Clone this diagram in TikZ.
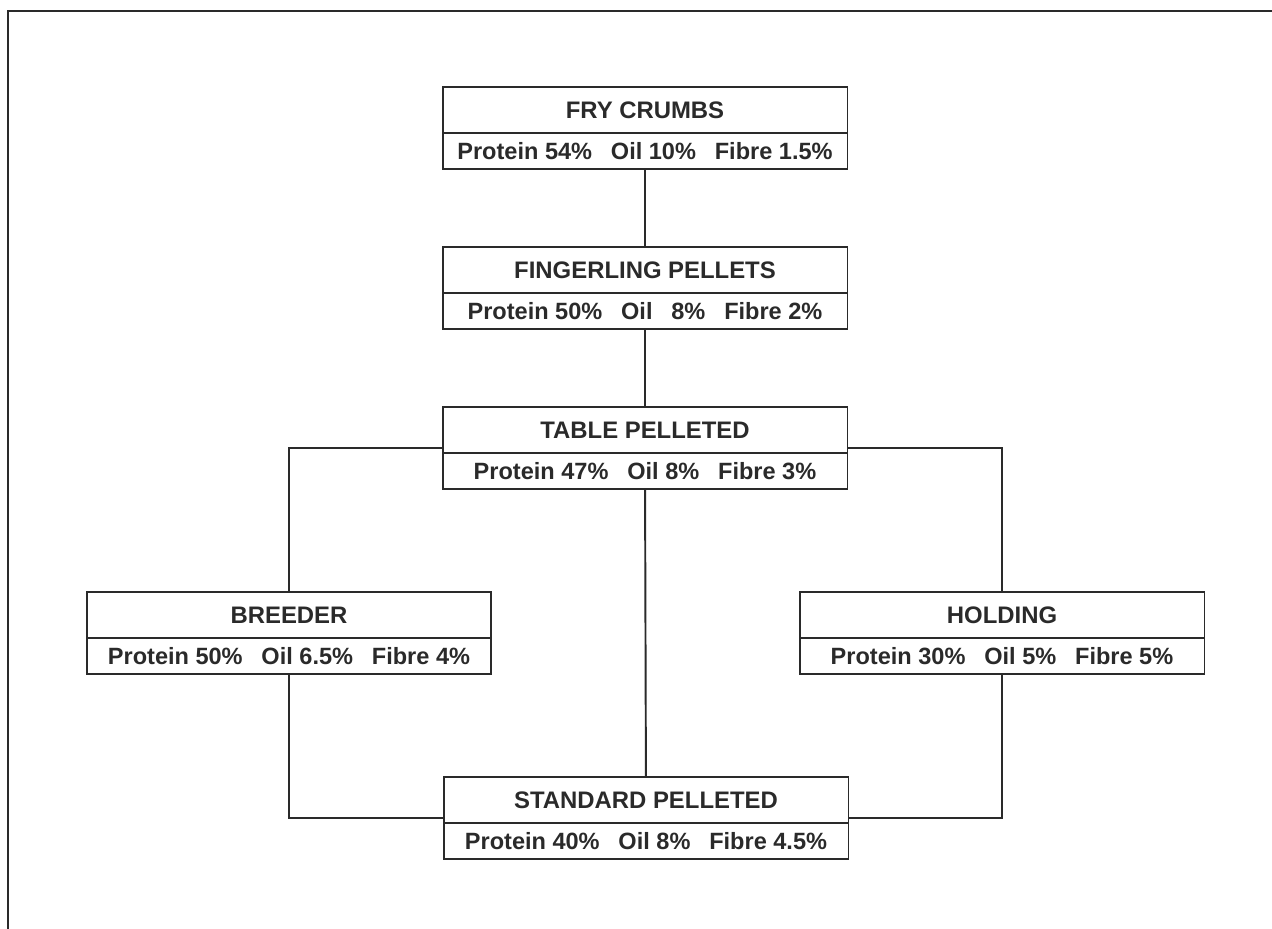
\documentclass[tikz,border=0pt]{standalone}
\usepackage{fontspec}
\setmainfont{Liberation Sans}
\usepackage{xcolor}
\usetikzlibrary{positioning,calc}
\definecolor{inkgrey}{HTML}{2a2a2a}
\newcommand{\gap}{\hspace{0.8em}}

\begin{document}
\begin{tikzpicture}[
    x=0.02cm, y=-0.02cm,
    title/.style={rectangle, draw=inkgrey, line width=1.1pt, minimum width=8.1cm,
                  minimum height=0.92cm, inner sep=0pt, outer sep=0pt, align=center,
                  font=\fontsize{13.6}{16}\selectfont\bfseries, text=inkgrey},
    values/.style={title, minimum height=0.72cm, font=\fontsize{13.4}{16}\selectfont\bfseries},
    link/.style={draw=inkgrey, line width=1.1pt}
]
\useasboundingbox (0,0) rectangle (1272,929);
% frame
\draw[link] (8,929) -- (8,11) -- (1272,11);

% feed boxes
\node[title] (fry) at (645,110) {FRY CRUMBS};
\node[values, below=0pt of fry] (fryval) {Protein 54\%\gap Oil 10\%\gap Fibre 1.5\%};
\node[title] (finger) at (645,270) {FINGERLING PELLETS};
\node[values, below=0pt of finger] (fingerval) {Protein 50\%\gap Oil\gap 8\%\gap Fibre 2\%};
\node[title] (table) at (645,430) {TABLE PELLETED};
\node[values, below=0pt of table] (tableval) {Protein 47\%\gap Oil 8\%\gap Fibre 3\%};
\node[title] (breeder) at (289,615) {BREEDER};
\node[values, below=0pt of breeder] (breederval) {Protein 50\%\gap Oil 6.5\%\gap Fibre 4\%};
\node[title] (holding) at (1002,615) {HOLDING};
\node[values, below=0pt of holding] (holdingval) {Protein 30\%\gap Oil 5\%\gap Fibre 5\%};
\node[title] (standard) at (646,800) {STANDARD PELLETED};
\node[values, below=0pt of standard] (standardval) {Protein 40\%\gap Oil 8\%\gap Fibre 4.5\%};

% connectors
\draw[link] (fryval) -- (finger);
\draw[link] (fingerval) -- (table);
\draw[link] (tableval) -- (standard);
\draw[link] ([yshift=3pt]table.south west) -| (breeder.north);
\draw[link] ([yshift=3pt]table.south east) -| (holding.north);
\draw[link] (breederval.south) |- ([yshift=3pt]standard.south west);
\draw[link] (holdingval.south) |- ([yshift=3pt]standard.south east);
\end{tikzpicture}
\end{document}
